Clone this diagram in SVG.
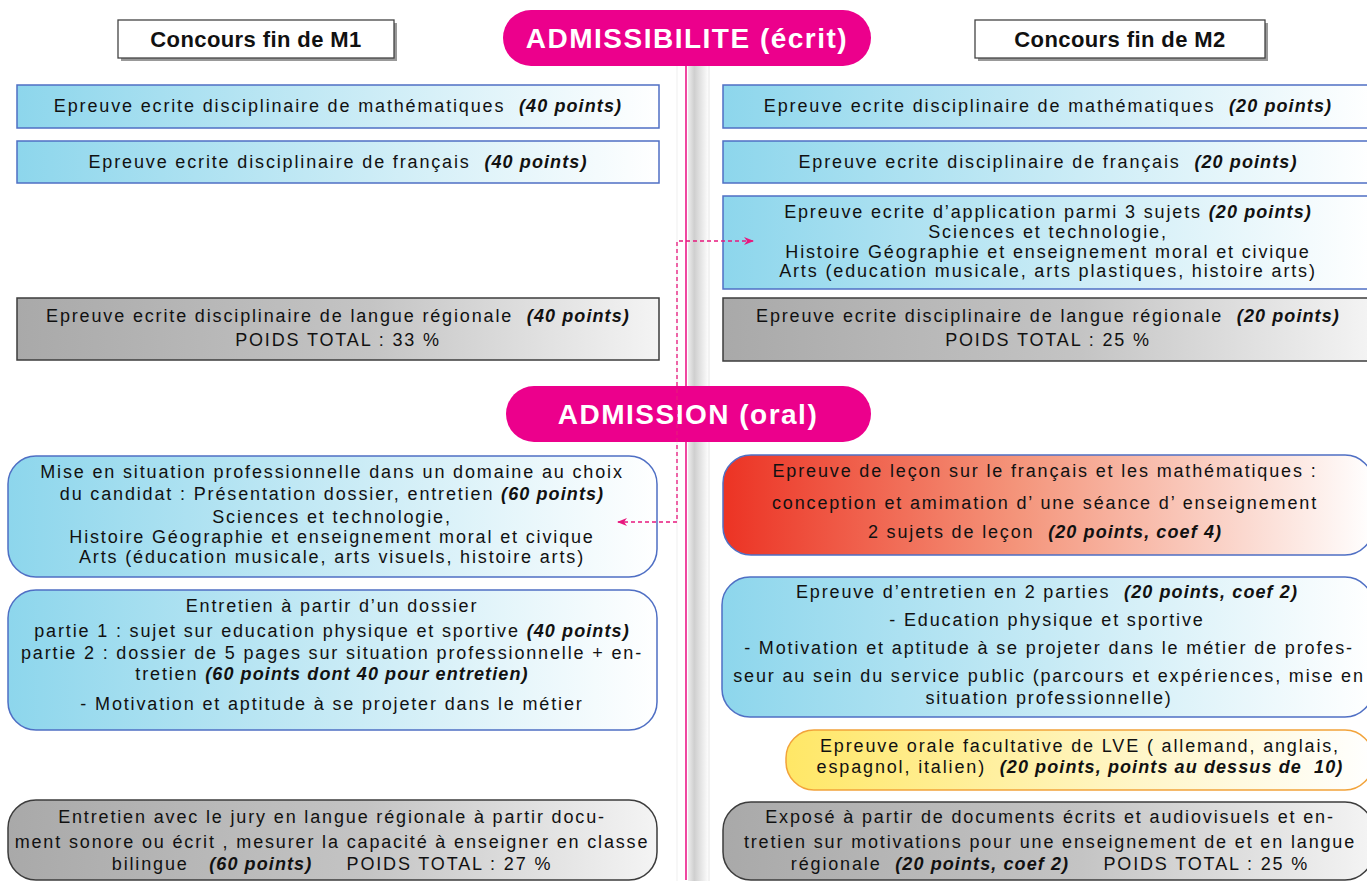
<svg xmlns="http://www.w3.org/2000/svg" width="1367" height="881" viewBox="0 0 1367 881" xml:space="preserve">
<defs>
<linearGradient id="gBlue" x1="0" y1="0" x2="1" y2="0"><stop offset="0" stop-color="#8DD6EC"/><stop offset="0.5" stop-color="#C6EAF5"/><stop offset="1" stop-color="#FFFFFF"/></linearGradient>
<linearGradient id="gGrey" x1="0" y1="0" x2="1" y2="0"><stop offset="0" stop-color="#A9A9A9"/><stop offset="0.55" stop-color="#C4C4C4"/><stop offset="1" stop-color="#F4F4F4"/></linearGradient>
<linearGradient id="gRed" x1="0" y1="0" x2="1" y2="0"><stop offset="0" stop-color="#EC3324"/><stop offset="0.45" stop-color="#F4947A"/><stop offset="1" stop-color="#FFFFFF"/></linearGradient>
<linearGradient id="gYel" x1="0" y1="0" x2="1" y2="0"><stop offset="0" stop-color="#FFE766"/><stop offset="0.6" stop-color="#FFF6C8"/><stop offset="1" stop-color="#FFFFFF"/></linearGradient>
<linearGradient id="gBand" x1="0" y1="0" x2="1" y2="0"><stop offset="0" stop-color="#EDEDED"/><stop offset="0.3" stop-color="#CFCFCF"/><stop offset="1" stop-color="#FFFFFF"/></linearGradient>
<marker id="arr" viewBox="0 0 10 10" refX="9" refY="5" markerWidth="10" markerHeight="10" markerUnits="userSpaceOnUse" orient="auto-start-reverse"><path d="M0,1 L10,5 L0,9 L3,5 Z" fill="#E8187E"/></marker>
</defs>
<style>
text{white-space:pre}
.t{font-family:"Liberation Sans",Arial,sans-serif;font-size:18px;letter-spacing:1.85px;fill:#111;text-anchor:middle}
.i{font-style:italic;font-weight:bold;letter-spacing:1.1px}
.h{font-family:"Liberation Sans",Arial,sans-serif;font-size:22px;font-weight:bold;letter-spacing:0.4px;fill:#111;text-anchor:middle}
.p{font-family:"Liberation Sans",Arial,sans-serif;font-size:28px;font-weight:bold;letter-spacing:1.5px;fill:#fff;text-anchor:middle}
.pill{fill:#EC008C}
.bx{fill:#fff;stroke:#444;stroke-width:1.3}
.sh{fill:#999}
.blue{fill:url(#gBlue);stroke:#4F6FC4;stroke-width:1.5}
.grey{fill:url(#gGrey);stroke:#3C3C3C;stroke-width:1.5}
.red{fill:url(#gRed);stroke:#4F6FC4;stroke-width:1.5}
.yel{fill:url(#gYel);stroke:#F2A33A;stroke-width:1.5}
.con{fill:none;stroke:#E8187E;stroke-width:1.3;stroke-dasharray:4 3}
</style>
<rect width="1367" height="881" fill="#fff"/>
<g id="divider">
<rect x="688" y="66" width="21" height="815" fill="url(#gBand)"/>
<line x1="677" y1="66" x2="677" y2="881" stroke="#EFEFEF" stroke-width="1"/>
<line x1="709" y1="66" x2="709" y2="881" stroke="#E6E6E6" stroke-width="1"/>
<line x1="686" y1="60" x2="686" y2="880" stroke="#EC1A8A" stroke-width="1.6"/>
</g>
<g id="hdr-m1"><rect class="sh" x="121" y="23" width="276" height="38"/><rect class="bx" x="118" y="20" width="276" height="38"/><text class="h" x="256" y="47">Concours fin de M1</text></g>
<g id="hdr-m2"><rect class="sh" x="978" y="23" width="290" height="38"/><rect class="bx" x="975" y="20" width="290" height="38"/><text class="h" x="1120" y="47">Concours fin de M2</text></g>
<g id="admissibilite"><rect class="pill" x="503" y="10" width="368" height="56" rx="28"/><text class="p" x="687" y="48">ADMISSIBILITE (écrit)</text></g>
<g id="admission"><rect class="pill" x="506" y="386" width="365" height="56" rx="28"/><text class="p" x="688" y="424">ADMISSION (oral)</text></g>

<g id="m1-math"><rect class="blue" x="17" y="85" width="642" height="43"/><text class="t" x="338" y="112">Epreuve ecrite disciplinaire de mathématiques  <tspan class="i">(40 points)</tspan></text></g>
<g id="m1-fr"><rect class="blue" x="17" y="141" width="642" height="42"/><text class="t" x="338" y="168">Epreuve ecrite disciplinaire de français  <tspan class="i">(40 points)</tspan></text></g>
<g id="m1-lr"><rect class="grey" x="17" y="298" width="642" height="62"/><text class="t" x="338" y="322">Epreuve ecrite disciplinaire de langue régionale  <tspan class="i">(40 points)</tspan></text><text class="t" x="338" y="346">POIDS TOTAL : 33 %</text></g>

<g id="m2-math"><rect class="blue" x="723" y="85" width="650" height="43"/><text class="t" x="1048" y="112">Epreuve ecrite disciplinaire de mathématiques  <tspan class="i">(20 points)</tspan></text></g>
<g id="m2-fr"><rect class="blue" x="723" y="141" width="650" height="42"/><text class="t" x="1048" y="168">Epreuve ecrite disciplinaire de français  <tspan class="i">(20 points)</tspan></text></g>
<g id="m2-app"><rect class="blue" x="723" y="196" width="650" height="93"/><text class="t" x="1048" y="218">Epreuve ecrite d’application parmi 3 sujets <tspan class="i">(20 points)</tspan></text><text class="t" x="1048" y="238">Sciences et technologie,</text><text class="t" x="1048" y="258">Histoire Géographie et enseignement moral et civique</text><text class="t" x="1048" y="277">Arts (education musicale, arts plastiques, histoire arts)</text></g>
<g id="m2-lr"><rect class="grey" x="723" y="298" width="650" height="63"/><text class="t" x="1048" y="322">Epreuve ecrite disciplinaire de langue régionale  <tspan class="i">(20 points)</tspan></text><text class="t" x="1048" y="346">POIDS TOTAL : 25 %</text></g>

<g id="m1-mise"><rect class="blue" x="8" y="456" width="649" height="121" rx="28"/><text class="t" x="332" y="478">Mise en situation professionnelle dans un domaine au choix</text><text class="t" x="332" y="500">du candidat : Présentation dossier, entretien <tspan class="i">(60 points)</tspan></text><text class="t" x="332" y="523">Sciences et technologie,</text><text class="t" x="332" y="543">Histoire Géographie et enseignement moral et civique</text><text class="t" x="332" y="563">Arts (éducation musicale, arts visuels, histoire arts)</text></g>
<g id="m1-entretien"><rect class="blue" x="8" y="590" width="649" height="140" rx="28"/><text class="t" x="332" y="612">Entretien à partir d’un dossier</text><text class="t" x="332" y="637">partie 1 : sujet sur education physique et sportive <tspan class="i">(40 points)</tspan></text><text class="t" x="332" y="659">partie 2 : dossier de 5 pages sur situation professionnelle + en-</text><text class="t" x="332" y="680">tretien <tspan class="i">(60 points dont 40 pour entretien)</tspan></text><text class="t" x="332" y="710">- Motivation et aptitude à se projeter dans le métier</text></g>
<g id="m1-oral-lr"><rect class="grey" x="8" y="800" width="649" height="80" rx="28"/><text class="t" x="332" y="823">Entretien avec le jury en langue régionale à partir docu-</text><text class="t" x="332" y="848">ment sonore ou écrit , mesurer la capacité à enseigner en classe</text><text class="t" x="332" y="870">bilingue   <tspan class="i">(60 points)</tspan>     POIDS TOTAL : 27 %</text></g>

<g id="m2-lecon"><rect class="red" x="723" y="455" width="650" height="100" rx="28"/><text class="t" x="1045" y="477">Epreuve de leçon sur le français et les mathématiques :</text><text class="t" x="1045" y="509">conception et amimation d’ une séance d’ enseignement</text><text class="t" x="1045" y="538">2 sujets de leçon  <tspan class="i">(20 points, coef 4)</tspan></text></g>
<g id="m2-entretien"><rect class="blue" x="722" y="577" width="651" height="140" rx="28"/><text class="t" x="1047" y="598">Epreuve d’entretien en 2 parties  <tspan class="i">(20 points, coef 2)</tspan></text><text class="t" x="1047" y="626">- Education physique et sportive</text><text class="t" x="1049" y="654">- Motivation et aptitude à se projeter dans le métier de profes-</text><text class="t" x="1049" y="682">seur au sein du service public (parcours et expériences, mise en</text><text class="t" x="1049" y="704">situation professionnelle)</text></g>
<g id="m2-lve"><rect class="yel" x="786" y="730" width="587" height="60" rx="28"/><text class="t" x="1080" y="752">Epreuve orale facultative de LVE ( allemand, anglais,</text><text class="t" x="1080" y="773">espagnol, italien)  <tspan class="i">(20 points, points au dessus de  10)</tspan></text></g>
<g id="m2-expose"><rect class="grey" x="723" y="802" width="650" height="78" rx="28"/><text class="t" x="1050" y="823">Exposé à partir de documents écrits et audiovisuels et en-</text><text class="t" x="1050" y="848">tretien sur motivations pour une enseignement de et en langue</text><text class="t" x="1050" y="870">régionale  <tspan class="i">(20 points, coef 2)</tspan>     POIDS TOTAL : 25 %</text></g>

<g id="connectors">
<path class="con" d="M753,241 H677 V522 H618" marker-start="url(#arr)" marker-end="url(#arr)"/>
</g>
</svg>
